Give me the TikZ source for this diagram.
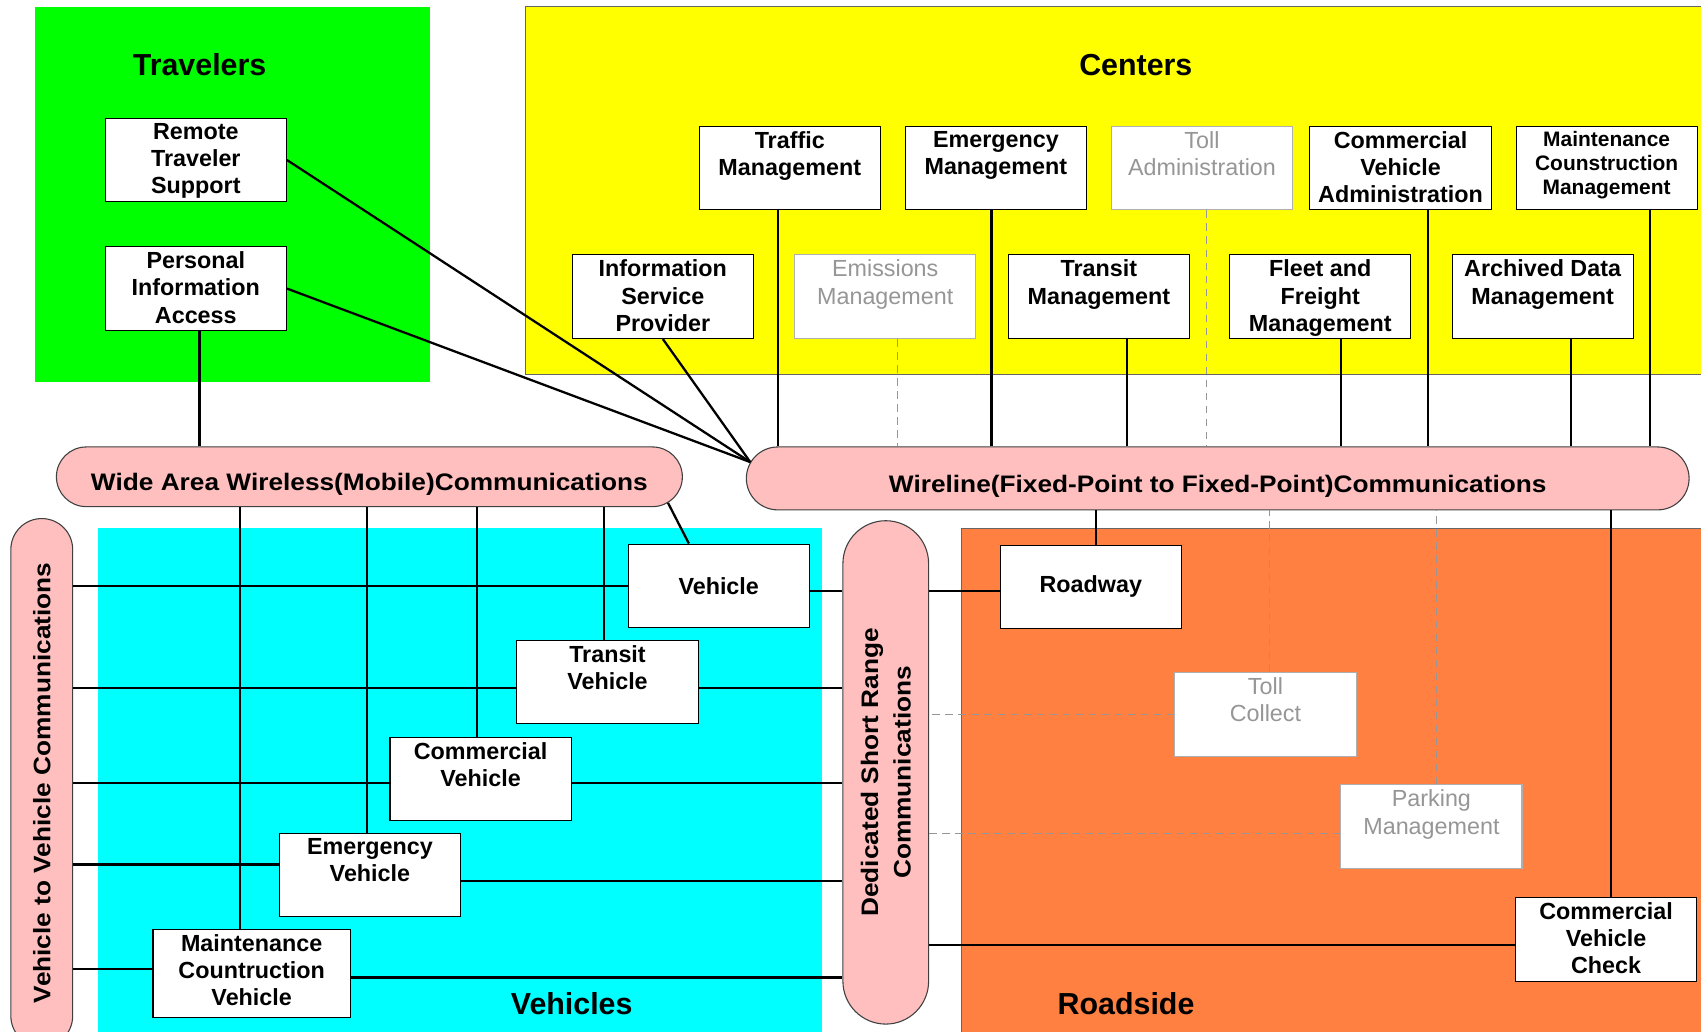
\documentclass[tikz,border=0pt]{standalone}
\usepackage{fontspec}
\setmainfont{Liberation Sans}
\newfontfamily\widesans[FakeStretch=1.1]{Liberation Sans}
\usetikzlibrary{shapes.misc}

\definecolor{travelgreen}{RGB}{0,255,0}
\definecolor{centeryellow}{RGB}{255,255,0}
\definecolor{vehiclecyan}{RGB}{0,255,255}
\definecolor{roadorange}{RGB}{255,128,64}
\definecolor{buspink}{RGB}{255,191,191}
\definecolor{plangray}{RGB}{150,150,150}
\definecolor{planborder}{RGB}{175,175,175}

\newcommand{\unitfont}{\fontsize{21.5}{25}\selectfont\bfseries}
\newcommand{\smallunitfont}{\fontsize{19.3}{22}\selectfont\bfseries}
\newcommand{\planfont}{\fontsize{21.5}{25}\selectfont}
\newcommand{\busfont}{\widesans\fontsize{22}{30}\selectfont\bfseries}
\newcommand{\areafont}{\fontsize{28}{32}\selectfont\bfseries}

\begin{document}
\begin{tikzpicture}[
        x=1pt,
        y=-1pt,
        sysbox/.style={draw, line width=1pt, fill=white, inner sep=0pt,
            minimum width=167, minimum height=77, font=\unitfont},
        planbox/.style={sysbox, draw=planborder, text=plangray, font=\planfont},
        toptext/.style={label={[anchor=north, inner sep=5pt, align=center, font=\unitfont]90:#1}},
        smalltext/.style={label={[anchor=north, inner sep=5pt, align=center, font=\smallunitfont]90:#1}},
        plantext/.style={label={[anchor=north, inner sep=5pt, align=center, font=\planfont, text=plangray]90:#1}},
        bus/.style={rounded rectangle, draw=black!75, line width=1pt, fill=buspink,
            inner sep=0pt, align=center, font=\busfont},
        flatbus/.style={bus, text height=30pt, text depth=4pt},
        area/.style={font=\areafont},
        link/.style={line width=2.1pt},
        planlink/.style={line width=1pt, draw=plangray, dash pattern=on 7pt off 5pt}
    ]
    \useasboundingbox (0,0) rectangle (1568,951);

    % the four subsystem areas
    \fill[travelgreen] (32,6) rectangle (396,352);
    \filldraw[fill=centeryellow, draw=black!60, line width=0.8pt] (484,6) rectangle (1580,345);
    \fill[vehiclecyan] (90,487) rectangle (758,960);
    \filldraw[fill=roadorange, draw=black!60, line width=0.8pt] (886,487) rectangle (1580,960);

    \node[area] (travelers) at (184,60) {Travelers};
    \node[area] (centers) at (1047,60) {Centers};
    \node[area] (vehicles) at (527,925) {Vehicles};
    \node[area] (roadside) at (1038,925) {Roadside};

    % travelers
    \node[sysbox, toptext={Remote\\Traveler\\Support}] (rts) at (180.5,147.5) {};
    \node[sysbox, toptext={Personal\\Information\\Access}] (pia) at (180.5,266) {};

    % centers
    \node[sysbox, toptext={Traffic\\Management}] (tm) at (728,155) {};
    \node[sysbox, toptext={Emergency\\Management}] (em) at (918,155) {};
    \node[planbox, plantext={Toll\\Administration}] (ta) at (1108,155) {};
    \node[sysbox, toptext={Commercial\\Vehicle\\Administration}] (cva) at (1291,155) {};
    \node[sysbox, smalltext={Maintenance\\Counstruction\\Management}] (mcm) at (1481,155) {};
    \node[sysbox, toptext={Information\\Service\\Provider}] (isp) at (611,273.5) {};
    \node[planbox, plantext={Emissions\\Management}] (emis) at (816,273.5) {};
    \node[sysbox, toptext={Transit\\Management}] (trm) at (1013,273.5) {};
    \node[sysbox, toptext={Fleet and\\Freight\\Management}] (ffm) at (1217,273.5) {};
    \node[sysbox, toptext={Archived Data\\Management}] (adm) at (1422,273.5) {};

    % communications
    \node[flatbus, minimum width=577, minimum height=55] (wide) at (340.5,439.5)
        {Wide Area Wireless(Mobile)Communications};
    \node[flatbus, minimum width=869, minimum height=58] (wire) at (1122.5,441)
        {Wireline(Fixed-Point to Fixed-Point)Communications};
    \node[bus, rotate=90, minimum width=487, minimum height=57] (v2v) at (38.5,721.5)
        {Vehicle to Vehicle Communications};
    \node[bus, rotate=90, minimum width=464, minimum height=79] (dsrc) at (816.5,712)
        {Dedicated Short Range\\Communications};

    % vehicles
    \node[sysbox] (veh) at (662.5,540) {Vehicle};
    \node[sysbox, toptext={Transit\\Vehicle}] (tv) at (560,628.5) {};
    \node[sysbox, toptext={Commercial\\Vehicle}] (cv) at (443,718) {};
    \node[sysbox, toptext={Emergency\\Vehicle}] (ev) at (341,806.5) {};
    \node[sysbox, minimum width=182, minimum height=81,
        toptext={Maintenance\\Countruction\\Vehicle}] (mcv) at (232,897.5) {};

    % roadside
    \node[sysbox] (rw) at (1005.5,541) {Roadway};
    \node[planbox, plantext={Toll\\Collect}] (tc) at (1166.5,658.5) {};
    \node[planbox, plantext={Parking\\Management}] (pm) at (1319.5,762) {};
    \node[sysbox, toptext={Commercial\\Vehicle\\Check}] (cvc) at (1480.5,866) {};

    % centers to wireline
    \foreach \n/\dx in {tm/-11, em/-4, cva/25, mcm/40, trm/26, ffm/19, adm/26} {
        \path ([xshift=\dx pt]\n.south) coordinate (p);
        \draw[link] (p) -- (p |- wire.north);
    }
    \foreach \n/\dx in {ta/4, emis/11} {
        \path ([xshift=\dx pt]\n.south) coordinate (p);
        \draw[planlink] (p) -- (p |- wire.north);
    }
    \draw[link] (isp.south) -- (wire.178);
    \draw[link] (rts.east) -- (wire.178);
    \draw[link] (pia.east) -- (wire.178);
    \path ([xshift=3.5pt]pia.south) coordinate (p);
    \draw[link] (p) -- (p |- wide.north);

    % vehicles to wide area, v2v and dsrc
    \foreach \n/\dx in {mcv/-11, ev/-3, cv/-3, tv/-3} {
        \path ([xshift=\dx pt]\n.north) coordinate (p);
        \draw[link] (p) -- (p |- wide.south);
    }
    \draw[link] (wide.-5) -- ([xshift=-27.5pt]veh.north);
    \foreach \n/\dy in {veh/0, tv/-5.5, cv/-4, ev/9.5, mcv/4.5} {
        \path ([yshift=\dy pt]\n.west) coordinate (p);
        \draw[link] (p) -- (p -| v2v.south);
    }
    \foreach \n/\dy in {veh/-5, tv/-5.5, cv/-4, ev/-5.5, mcv/-3.5} {
        \path ([yshift=\dy pt]\n.east) coordinate (p);
        \draw[link] (p) -- (p -| dsrc.north);
    }

    % roadside to dsrc and wireline
    \foreach \n/\dy in {rw/-4, cvc/-5} {
        \path ([yshift=\dy pt]\n.west) coordinate (p);
        \draw[link] (p) -- (p -| dsrc.south);
    }
    \foreach \n/\dy in {tc/0, pm/-6} {
        \path ([yshift=\dy pt]\n.west) coordinate (p);
        \draw[planlink] (p) -- (p -| dsrc.south);
    }
    \foreach \n/\dx in {rw/4.5, cvc/4.5} {
        \path ([xshift=\dx pt]\n.north) coordinate (p);
        \draw[link] (p) -- (p |- wire.south);
    }
    \foreach \n/\dx in {tc/3.5, pm/4.5} {
        \path ([xshift=\dx pt]\n.north) coordinate (p);
        \draw[planlink] (p) -- (p |- wire.south);
    }
\end{tikzpicture}
\end{document}
